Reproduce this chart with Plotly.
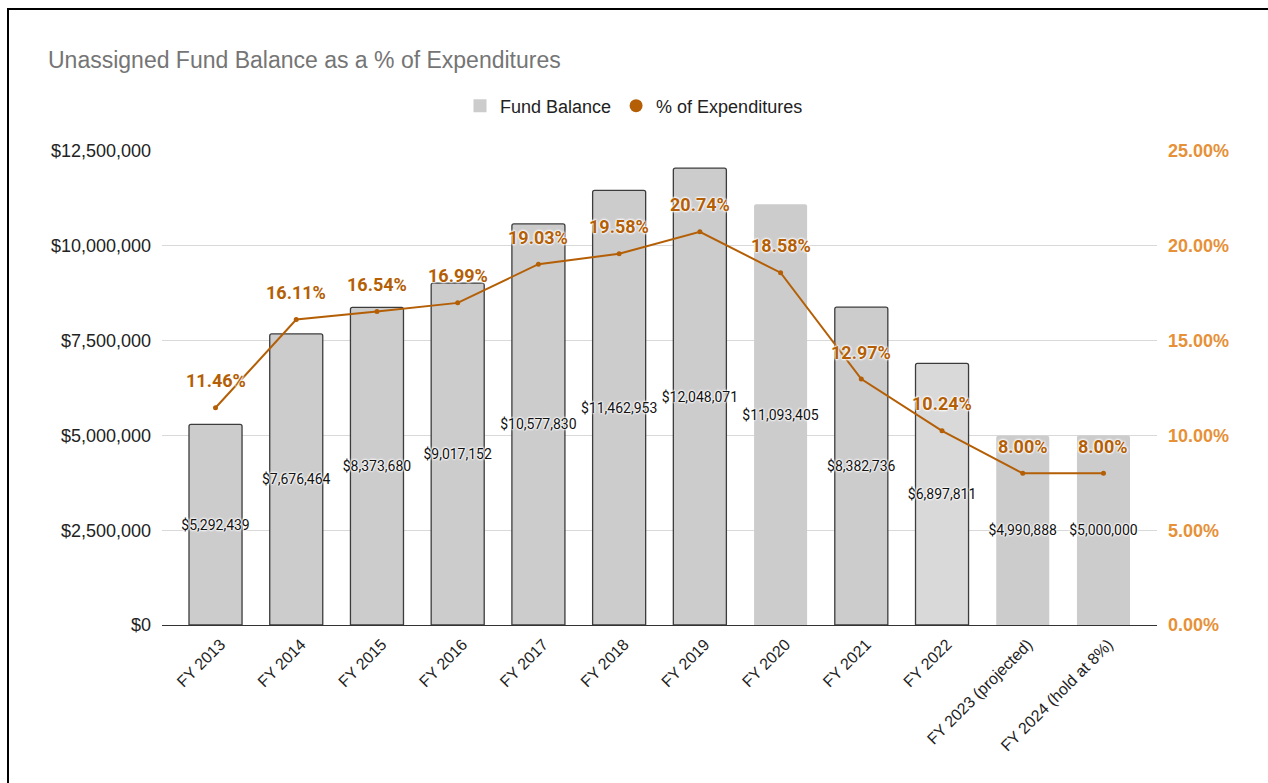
import plotly.graph_objects as go

categories = ["FY 2013", "FY 2014", "FY 2015", "FY 2016", "FY 2017", "FY 2018",
              "FY 2019", "FY 2020", "FY 2021", "FY 2022", "FY 2023 (projected)",
              "FY 2024 (hold at 8%)"]
fund_balance = [5292439, 7676464, 8373680, 9017152, 10577830, 11462953,
                12048071, 11093405, 8382736, 6897811, 4990888, 5000000]
pct_expend = [11.46, 16.11, 16.54, 16.99, 19.03, 19.58, 20.74, 18.58, 12.97,
              10.24, 8.00, 8.00]
outlined = [True, True, True, True, True, True, True, False, True, True, False, False]
bar_fill = ["#cccccc"] * 9 + ["#d9d9d9", "#cccccc", "#cccccc"]

ORANGE = "#b45f06"
ORANGE_AXIS = "#e69138"
HALO = "0px 0px 2px #ffffff, 0px 0px 2px #ffffff, 0px 0px 3px #ffffff, 0px 0px 3px #ffffff"
AX_FONT = "Arial, Liberation Sans"

fig = go.Figure()
fig.add_trace(go.Bar(
    x=categories, y=fund_balance, name="Fund Balance", showlegend=False,
    marker=dict(color=bar_fill,
                line=dict(color=["#3c3c3c" if o else "rgba(0,0,0,0)" for o in outlined],
                          width=[1.3 if o else 0 for o in outlined])),
    width=0.657,
    text=[f"${v:,.0f}" for v in fund_balance],
    textposition="inside", insidetextanchor="middle", constraintext="none",
    textangle=0,
    textfont=dict(family="Roboto", size=14, color="#111111", shadow=HALO),
    yaxis="y",
))
fig.add_trace(go.Scatter(
    x=categories, y=pct_expend, name="% of Expenditures", showlegend=False,
    mode="lines+markers",
    line=dict(color=ORANGE, width=2),
    marker=dict(color=ORANGE, size=5),
    yaxis="y2",
))
# legend-only entries
fig.add_trace(go.Scatter(x=[None], y=[None], mode="markers", name="Fund Balance",
                         marker=dict(symbol="square", color="#cccccc", size=13)))
fig.add_trace(go.Scatter(x=[None], y=[None], mode="markers", name="% of Expenditures",
                         marker=dict(symbol="circle", color=ORANGE, size=13)))

L, R, T, B = 162, 111, 151, 158
W, H = 1268, 783
pw, ph = W - L - R, H - T - B

def px_x(p):
    return (p - L) / pw

def px_y(p):
    return (H - B - p) / ph

annotations = [dict(x=c, y=v, xref="x", yref="y2", text=f"{v:.2f}%",
                    showarrow=False, yshift=27,
                    font=dict(family="Roboto", size=18, color=ORANGE, weight="bold",
                              shadow=HALO))
               for c, v in zip(categories, pct_expend)]

fig.update_layout(
    width=W, height=H,
    margin=dict(l=L, r=R, t=T, b=B, pad=0),
    paper_bgcolor="white", plot_bgcolor="white",
    barcornerradius=2,
    title=dict(text="Unassigned Fund Balance as a % of Expenditures",
               x=48 / W, xanchor="left", y=1 - 60 / H, yanchor="middle",
               font=dict(family=AX_FONT, size=23, color="#757575")),
    legend=dict(orientation="h", x=px_x(634), xanchor="center",
                y=px_y(106), yanchor="middle",
                font=dict(family=AX_FONT, size=18, color="#222222"),
                itemwidth=30, traceorder="normal"),
    xaxis=dict(range=[-0.663, 11.663], tickangle=-45, showgrid=False,
               showline=False, ticks="", ticklabelstandoff=6, ticklabelshift=5,
               tickfont=dict(family=AX_FONT, size=16, color="#222222")),
    yaxis=dict(range=[0, 12500000], dtick=2500000, tickprefix="$", tickformat=",d",
               showgrid=True, gridcolor="#d9d9d9", gridwidth=1,
               zeroline=True, zerolinecolor="#333333", zerolinewidth=1.3,
               ticks="", ticklabelstandoff=10,
               tickfont=dict(family=AX_FONT, size=18, color="#222222")),
    yaxis2=dict(range=[0, 25], dtick=5, overlaying="y", side="right",
                tickformat=".2f", ticksuffix="%", showgrid=False, zeroline=False,
                ticks="", ticklabelstandoff=10,
                tickfont=dict(family=AX_FONT, size=18,
                              color=ORANGE_AXIS, weight="bold")),
    annotations=annotations,
    shapes=[dict(type="rect", xref="paper", yref="paper",
                 x0=px_x(8), x1=px_x(1290), y0=px_y(800), y1=px_y(9),
                 line=dict(color="#000000", width=2), fillcolor="rgba(0,0,0,0)",
                 layer="above")],
)

fig.write_html("out.html")
